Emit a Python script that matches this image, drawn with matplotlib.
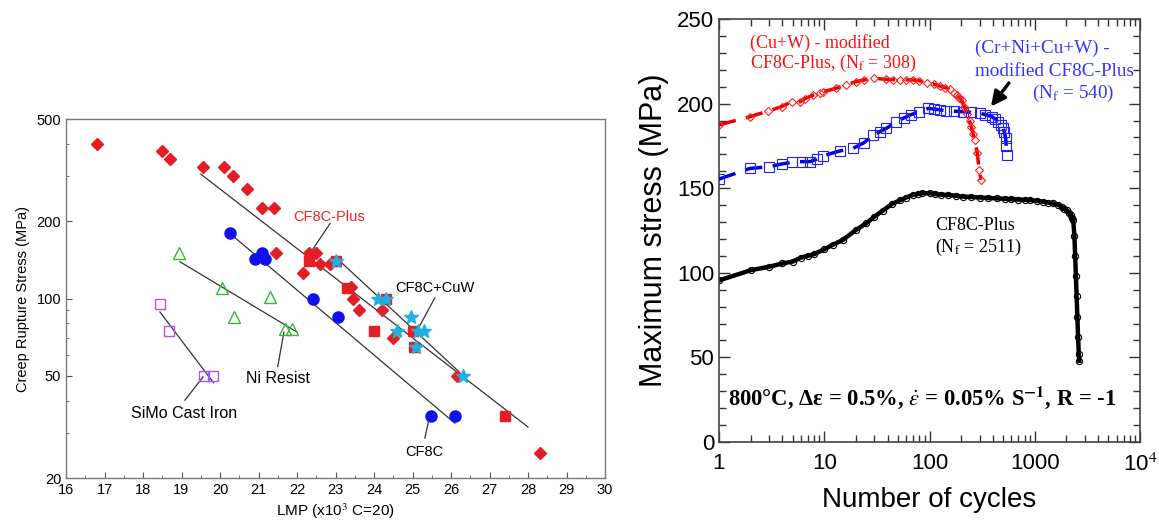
import matplotlib
matplotlib.use("Agg")
import matplotlib.pyplot as plt
from matplotlib.ticker import FixedLocator, FixedFormatter, NullFormatter, LogLocator

plt.rcParams['font.family'] = ['Liberation Sans', 'DejaVu Sans']
plt.rcParams['mathtext.fontset'] = 'stix'

# ---- left panel: creep rupture (LMP vs stress) ----
plus_d_lmp = [16.8, 18.5, 18.7, 19.55, 20.1, 20.35, 20.7, 21.1, 21.4, 21.45, 22.15, 22.3,
              22.5, 22.6, 22.85, 23.4, 23.45, 23.6, 24.2, 24.5, 26.15, 28.3]
plus_d_s = [400, 375, 350, 325, 325, 300, 267, 225, 225, 150, 126, 150,
            150, 136, 136, 111, 100, 90, 90, 70, 50, 25]
plus_sq_lmp = [22.3, 23.0, 23.3, 24.0, 24.3, 25.0, 25.05, 27.4]
plus_sq_s = [140, 140, 110, 75, 100, 75, 65, 35]
cuw_lmp = [23.0, 24.1, 24.3, 24.95, 24.6, 25.15, 25.3, 25.1, 26.3]
cuw_s = [140, 100, 100, 85, 75, 75, 75, 65, 50]
cf8c_lmp = [20.25, 21.08, 20.9, 21.17, 22.42, 23.06, 25.48, 26.1]
cf8c_s = [180, 150, 142, 142, 100, 85, 35, 35]
ni_lmp = [18.94, 20.05, 21.3, 20.37, 21.69, 21.87]
ni_s = [150, 110, 101, 85, 76, 76]
simo_lmp = [18.44, 18.68, 19.58, 19.83]
simo_s = [95, 75, 50, 50]

# fitted trend lines (end points)
fit_plus = ([19.5, 28.0], [305, 31.6])
fit_cuw = ([23.0, 26.2], [145, 52])
fit_cf8c = ([20.3, 26.1], [177, 32.7])
fit_ni = ([18.96, 22.0], [139, 74])
fit_simo = ([18.44, 19.83], [88.6, 47])

# ---- right panel: cyclic stress response ----
cuw_n = [1, 1.97, 2.94, 3.94, 4.9, 5.9, 6.56, 7.87, 9.1, 9.8, 12.9, 16, 20, 24, 29.7, 39,
         45, 52.5, 60, 70, 80, 94, 110, 125, 140, 156, 170, 181, 192, 202, 215, 228, 240,
         250, 260, 270, 284, 297, 308]
cuw_stress = [187.4, 192.3, 195.6, 198.2, 201.1, 201.1, 203, 205, 206, 207, 209, 211, 213,
              214, 215, 214.3, 214.2, 214, 214, 214, 213.5, 212.4, 211.5, 210.4, 209.5, 208.4,
              206.5, 205, 203.5, 202, 198, 194, 190, 186, 182, 178.5, 170.6, 160.8, 155]

crni_n = [1, 1.97, 3.0, 3.94, 4.9, 6.1, 7.3, 8.46, 9.8, 14, 18.9, 24, 29.2, 34, 39, 48.5,
          57, 66, 79.6, 97.7, 110, 125, 145, 170, 210, 250, 302, 340, 390, 420, 450, 480,
          502, 515, 530, 535, 540]
crni_stress = [155.4, 161.7, 162.7, 164.3, 165.3, 165.7, 165.7, 167.1, 169.2, 172, 173.6,
               177, 181.4, 183.5, 185.4, 189.3, 191.5, 193.3, 195.2, 197.2, 196.8, 196.3,
               195.8, 195.5, 195.2, 194.8, 194.3, 193.5, 192.3, 191, 189.3, 187.5, 185.4,
               183, 179.5, 175, 169.6]

cf8c_n = [1, 2, 3, 4, 5, 6, 7, 8, 10, 12, 15, 20, 25, 30, 36, 44, 53, 60, 69, 77, 85, 101,
          114, 130, 150, 180, 209, 250, 300, 360, 435, 520, 600, 700, 800, 901, 1050, 1200,
          1350, 1500, 1650, 1800, 1900, 2010, 2100, 2200, 2270, 2320, 2380, 2420, 2460,
          2500, 2540, 2580, 2620, 2650]
cf8c_stress = [95.5, 101.5, 103.6, 105.5, 106.6, 109, 110, 111, 113.9, 116.5, 119.4, 125.3,
               129.2, 133.2, 136.7, 140.7, 143, 144.5, 146, 146.5, 147, 147, 146.5, 146.2,
               146, 145.5, 145, 144.8, 144.5, 144.2, 144, 143.7, 143.5, 143.3, 143.1, 143,
               142.5, 142, 141.5, 141, 140.3, 139, 138, 137, 135.5, 134, 132.5, 131, 122,
               110, 98, 86, 74, 62, 52, 48]

fig = plt.figure(figsize=(11.59, 5.2), dpi=100)

ax1 = fig.add_axes([66/1159, 1-478/520, (605-66)/1159, (478-119)/520])
ax1.set_yscale('log')
ax1.set_xlim(16, 30)
ax1.set_ylim(20, 500)

for xs, ys in [fit_plus, fit_cuw, fit_cf8c, fit_ni, fit_simo]:
    ax1.plot(xs, ys, color='#333333', lw=0.9, zorder=1)

ax1.plot(plus_d_lmp, plus_d_s, 'D', color='#e31e24', ms=6.5, mec='#e31e24', zorder=3)
ax1.plot(plus_sq_lmp, plus_sq_s, 's', color='#e31e24', ms=7, mec='#e31e24', zorder=3)
ax1.plot(cuw_lmp, cuw_s, '*', color='#1fb0e0', ms=10, mec='#1fb0e0', zorder=4)
ax1.plot(cf8c_lmp, cf8c_s, 'o', color='#1010f0', ms=8, mec='#1010f0', zorder=3)
ax1.plot(ni_lmp, ni_s, '^', mfc='none', mec='#33bb33', ms=8, mew=1.0, zorder=3)
ax1.plot(simo_lmp, simo_s, 's', mfc='none', mec='#aa55ee', ms=7.5, mew=1.0, zorder=3)

lab = dict(fontsize=10.5, va='center', ha='left')
big = dict(fontsize=11.5, va='center', ha='left')
ax1.text(21.9, 207, 'CF8C-Plus', color='#ff2020', **lab)
ax1.plot([22.86, 22.34], [196, 150], color='#333333', lw=0.9)
ax1.text(24.55, 110, 'CF8C+CuW', color='black', **lab)
ax1.plot([25.58, 25.14], [100.5, 76], color='#333333', lw=0.9)
ax1.text(20.68, 48.6, 'Ni Resist', color='black', **big)
ax1.plot([21.5, 21.66], [54.3, 74], color='#333333', lw=0.9)
ax1.text(17.7, 35.8, 'SiMo Cast Iron', color='black', **big)
ax1.plot([19.09, 19.56], [40.2, 49.5], color='#333333', lw=0.9)
ax1.text(24.8, 25.2, 'CF8C', color='black', **lab)
ax1.plot([25.32, 25.43], [28.6, 34], color='#333333', lw=0.9)

ax1.yaxis.set_major_locator(FixedLocator([20, 50, 100, 200, 500]))
ax1.yaxis.set_major_formatter(FixedFormatter(['20', '50', '100', '200', '500']))
ax1.yaxis.set_minor_locator(FixedLocator([30, 40, 60, 70, 80, 90, 300, 400]))
ax1.yaxis.set_minor_formatter(NullFormatter())
ax1.set_xticks(range(16, 31))
ax1.set_xticks([x + 0.5 for x in range(16, 30)], minor=True)
ax1.tick_params(which='both', direction='in', labelsize=10.5, color='#555555')
ax1.tick_params(which='major', length=4)
ax1.tick_params(which='minor', length=2.5)
for sp in ax1.spines.values():
    sp.set_color('#7a7a7a')
    sp.set_linewidth(1.0)
ax1.set_xlabel('LMP (x10$^3$ C=20)', fontsize=11, labelpad=3)
ax1.set_ylabel('Creep Rupture Stress (MPa)', fontsize=10.5, labelpad=5)

# ---- right panel ----
ax2 = fig.add_axes([719/1159, 1-442/520, (1140-719)/1159, (442-19)/520])
ax2.set_xscale('log')
ax2.set_xlim(1, 1e4)
ax2.set_ylim(0, 250)

ax2.plot(cf8c_n, cf8c_stress, '-', color='black', lw=3.2, marker='o', mfc='none',
         mec='black', ms=4.5, mew=0.8, zorder=2)
ax2.plot(crni_n, crni_stress, color='#0000dd', lw=2.5, dashes=(5, 3), marker='s',
         mfc='none', mec='#2020ff', ms=6.5, mew=0.8, zorder=3)
ax2.plot(cuw_n, cuw_stress, color='#ee0000', lw=2.5, dashes=(5, 3), marker='D',
         mfc='none', mec='#ff2020', ms=4.5, mew=0.8, zorder=4)

serif = dict(family=['Liberation Serif', 'DejaVu Serif'], fontsize=13)
blue_serif = dict(family=['Liberation Serif', 'DejaVu Serif'], fontsize=13.8)
ax2.text(1.97, 235.8, '(Cu+W) - modified', color='#ff1010', va='center', **serif)
ax2.text(1.97, 224, 'CF8C-Plus, (N$_\\mathrm{f}$ = 308)', color='#ff1010', va='center', **serif)
ax2.text(10**((975-719)/105.25), 232.5, '(Cr+Ni+Cu+W) -', color='#3333ff', va='center', **blue_serif)
ax2.text(10**((975-719)/105.25), 219, 'modified CF8C-Plus', color='#3333ff', va='center', **blue_serif)
ax2.text(10**((1032-719)/105.25), 206, '(N$_\\mathrm{f}$ = 540)', color='#3333ff', va='center', **blue_serif)
ax2.text(113, 128.2, 'CF8C-Plus', color='black', va='center', **serif)
ax2.text(113, 115.2, '(N$_\\mathrm{f}$ = 2511)', color='black', va='center', **serif)
ax2.annotate('', xy=(370, 197), xytext=(590, 213.5),
             arrowprops=dict(arrowstyle='-|>', color='black', lw=2.4, mutation_scale=22))
ax2.text(1.22, 26, '800°C, Δε = 0.5%, $\\dot{\\varepsilon}$ = 0.05% S$^{\\mathbf{-1}}$, R = -1',
         va='center', ha='left', fontweight='bold',
         family=['Liberation Serif', 'DejaVu Serif'], fontsize=16.3)

ax2.set_yticks(range(0, 251, 50))
ax2.set_yticks(range(0, 251, 10), minor=True)
ax2.xaxis.set_major_locator(FixedLocator([1, 10, 100, 1000, 10000]))
ax2.xaxis.set_major_formatter(FixedFormatter(['1', '10', '100', '1000', '10$^4$']))
ax2.xaxis.set_minor_locator(LogLocator(base=10, subs=range(2, 10), numticks=20))
ax2.xaxis.set_minor_formatter(NullFormatter())
ax2.tick_params(which='both', direction='in', top=True, right=True, labelsize=16,
                color='#333333')
ax2.tick_params(which='major', length=8, width=1)
ax2.tick_params(which='minor', length=5, width=1)
ax2.tick_params(axis='x', pad=8)
for sp in ax2.spines.values():
    sp.set_color('#444444')
    sp.set_linewidth(1.2)
ax2.set_xlabel('Number of cycles', fontsize=20, labelpad=8)
ax2.set_ylabel('Maximum stress (MPa)', fontsize=22, labelpad=6)

fig.savefig('out.png', dpi=100)
